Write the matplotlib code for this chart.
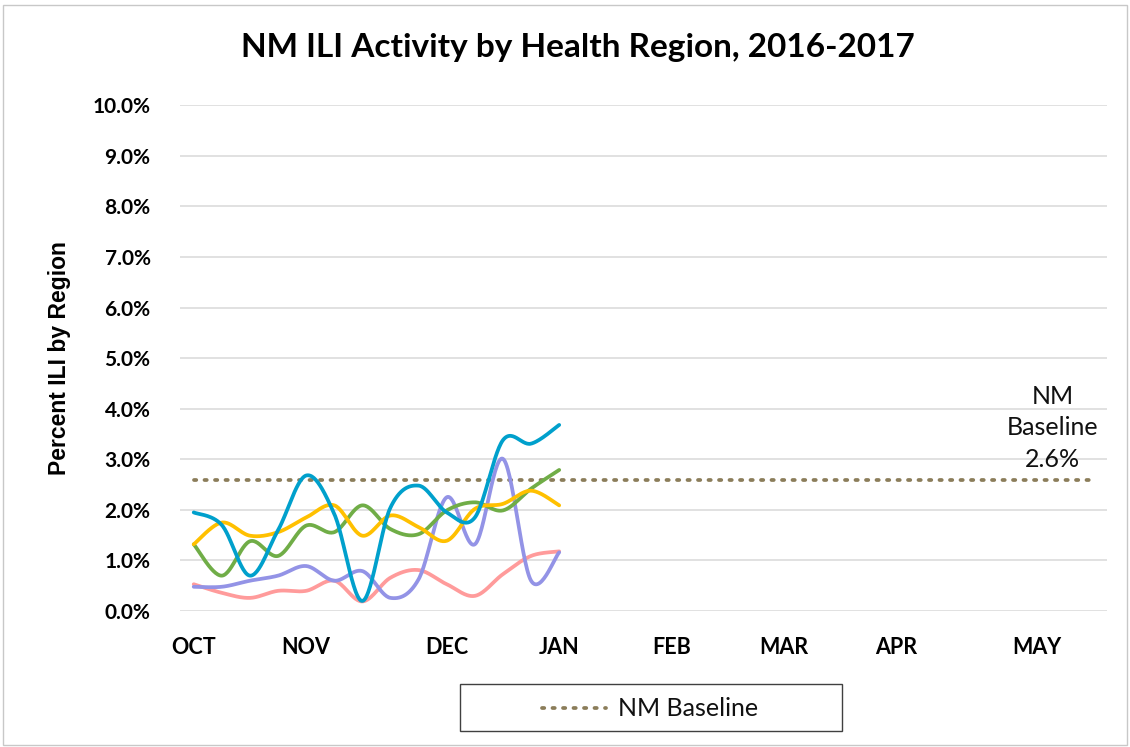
import numpy as np
import matplotlib
matplotlib.use('Agg')
import matplotlib.pyplot as plt
from matplotlib.patches import Rectangle
from matplotlib.lines import Line2D

plt.rcParams['font.family'] = ['Lato', 'DejaVu Sans']

# week index 0 = first week of OCT
weeks = np.arange(14)
n_weeks = 33
month_labels = ['OCT', 'NOV', 'DEC', 'JAN', 'FEB', 'MAR', 'APR', 'MAY']
month_pos = [0, 4, 9, 13, 17, 21, 25, 30]
baseline = 2.6

region_blue = [1.95, 1.70, 0.70, 1.60, 2.68, 1.92, 0.20, 2.05, 2.48, 1.95, 1.85, 3.38, 3.31, 3.68]
region_gold = [1.32, 1.75, 1.49, 1.56, 1.85, 2.09, 1.49, 1.89, 1.66, 1.39, 2.02, 2.12, 2.38, 2.09]
region_green = [1.32, 0.70, 1.38, 1.09, 1.69, 1.56, 2.09, 1.62, 1.52, 1.99, 2.15, 1.99, 2.42, 2.79]
region_purple = [0.48, 0.48, 0.60, 0.70, 0.89, 0.60, 0.79, 0.26, 0.63, 2.25, 1.32, 3.01, 0.60, 1.16]
region_pink = [0.53, 0.36, 0.26, 0.40, 0.40, 0.60, 0.19, 0.66, 0.81, 0.53, 0.30, 0.73, 1.09, 1.18]

series = [
    (region_pink, '#FF9B9B'),
    (region_purple, '#9393E6'),
    (region_green, '#70AD47'),
    (region_gold, '#FFC000'),
    (region_blue, '#00A0CC'),
]
BASE_C = '#8B7D5A'
DOTS = (0, (0.6, 2.2))


def smooth(x, y, steps=30):
    # Excel-like smoothed line: Catmull-Rom style cubic Bezier segments
    x = np.asarray(x, float); y = np.asarray(y, float)
    px, py = [], []
    n = len(x)
    t = np.linspace(0, 1, steps)
    for i in range(n - 1):
        i0 = max(i - 1, 0); i3 = min(i + 2, n - 1)
        p0 = np.array([x[i], y[i]]); p3 = np.array([x[i + 1], y[i + 1]])
        p1 = p0 + (p3 - np.array([x[i0], y[i0]])) / 6
        p2 = p3 - (np.array([x[i3], y[i3]]) - p0) / 6
        b = ((1 - t) ** 3)[:, None] * p0 + (3 * (1 - t) ** 2 * t)[:, None] * p1 \
            + (3 * (1 - t) * t ** 2)[:, None] * p2 + (t ** 3)[:, None] * p3
        px.extend(b[:, 0]); py.extend(b[:, 1])
    return np.array(px), np.array(py)


fig = plt.figure(figsize=(11.3, 7.47), dpi=100)
fig.patches.append(Rectangle((0.003, 0.003), 0.994, 0.99, transform=fig.transFigure,
                             fill=False, ec='#C8C8C8', lw=1))
ax = fig.add_axes([0.159, 0.182, 0.821, 0.677])

for vals, c in series:
    sx, sy = smooth(weeks, np.array(vals) / 100)
    ax.plot(sx, sy, color=c, lw=2.7, solid_capstyle='round', zorder=3)

ax.plot(np.arange(n_weeks), [baseline / 100] * n_weeks, color=BASE_C,
        lw=2.7, ls=DOTS, dash_capstyle='round', zorder=2)

ax.set_xlim(-0.5, n_weeks - 0.5)
ax.set_ylim(0, 0.10)
ax.set_yticks(np.arange(0, 0.1001, 0.01))
ax.set_yticklabels([f'{v:.1f}%' for v in np.arange(0, 10.01, 1)],
                   fontsize=15, fontweight='bold')
ax.set_xticks(month_pos)
ax.set_xticklabels(month_labels, fontsize=15.5, fontweight='bold')
ax.tick_params(length=0, axis='y', pad=21)
ax.tick_params(length=0, axis='x', pad=19)
ax.grid(axis='y', color='#D9D9D9', lw=1.1)
ax.set_axisbelow(True)
for s in ax.spines.values():
    s.set_visible(False)

fig.text(0.511, 0.936, 'NM ILI Activity by Health Region, 2016-2017', fontsize=24,
         fontweight='bold', ha='center', va='center')
fig.text(0.053, 0.52, 'Percent ILI by Region', fontsize=16.5, fontweight='bold',
         family=['Liberation Sans', 'DejaVu Sans'], rotation=90,
         ha='center', va='center')

ax.text(30.55, 0.0362, 'NM\nBaseline\n2.6%', ha='center', va='center',
        fontsize=18, linespacing=1.45, color='#111111')

# legend box
fig.patches.append(Rectangle((460 / 1130, 1 - 731 / 747), 382 / 1130, 47 / 747,
                             transform=fig.transFigure, fill=False,
                             ec='#404040', lw=1.0))
fig.lines.append(Line2D([542 / 1130, 606 / 1130], [1 - 708 / 747] * 2,
                        transform=fig.transFigure, color=BASE_C, lw=2.7,
                        ls=DOTS, dash_capstyle='round'))
fig.text(618 / 1130, 1 - 708 / 747, 'NM Baseline', fontsize=18,
         ha='left', va='center', color='#111111')

fig.savefig('out.png', dpi=100)
